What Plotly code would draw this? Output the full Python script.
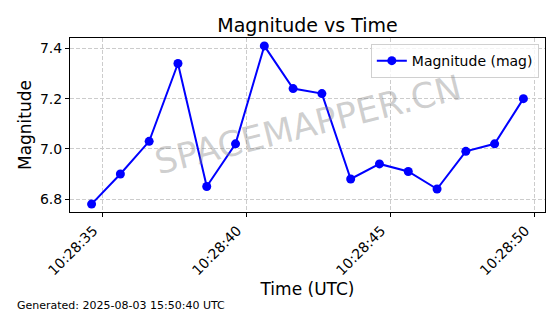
import plotly.graph_objects as go
from datetime import datetime, timedelta

start = datetime(2025, 8, 3, 10, 28, 34, 620000)
times = [start + timedelta(seconds=i) for i in range(16)]
magnitudes = [6.78, 6.90, 7.03, 7.34, 6.85, 7.02, 7.41, 7.24, 7.22, 6.88, 6.94, 6.91, 6.84, 6.99, 7.02, 7.20]
xticks = [datetime(2025, 8, 3, 10, 28, s) for s in (35, 40, 45, 50)]
yticks = [6.8, 7.0, 7.2, 7.4]

font = "DejaVu Sans"
fig = go.Figure()
fig.add_trace(go.Scatter(
    x=times, y=magnitudes, mode="lines+markers", name="Magnitude (mag)",
    line=dict(color="#0000ff", width=2),
    marker=dict(color="#0000ff", size=9),
))

axis_common = dict(
    showline=True, linecolor="black", linewidth=1, mirror=True,
    ticks="outside", ticklen=4, tickcolor="black",
    showgrid=True, gridcolor="#cccccc", griddash="4px,2px", gridwidth=1,
    zeroline=False, tickfont=dict(family=font, size=14, color="black"),
)

fig.update_layout(
    width=560, height=314,
    margin=dict(l=70, r=15, t=38, b=102),
    paper_bgcolor="white", plot_bgcolor="white",
    title=dict(text="Magnitude vs Time", xref="paper", x=0.5, xanchor="center", y=0.92, yanchor="middle",
               font=dict(family=font, size=19, color="black")),
    showlegend=True,
    legend=dict(x=0.987, y=0.965, xanchor="right", yanchor="top", itemwidth=30,
                bgcolor="rgba(255,255,255,0.8)", bordercolor="#d0d0d0", borderwidth=1,
                font=dict(family=font, size=14, color="black")),
    xaxis=dict(axis_common, type="date",
               range=[start - timedelta(seconds=0.75), start + timedelta(seconds=15.75)],
               tickvals=xticks, tickformat="%H:%M:%S", tickangle=-45, ticklabelshift=-9,
               title=dict(text="Time (UTC)", font=dict(family=font, size=17, color="black"), standoff=5)),
    yaxis=dict(axis_common, range=[6.7485, 7.4415], tickvals=yticks, tickformat=".1f",
               title=dict(text="Magnitude", font=dict(family=font, size=17, color="black"), standoff=3)),
)

fig.add_annotation(
    text="SPACEMAPPER.CN", xref="paper", yref="paper", x=0.5, y=0.5,
    showarrow=False, textangle=-14,
    font=dict(family=font, size=35, color="rgba(128,128,128,0.38)"),
)
fig.add_annotation(
    text="Generated: 2025-08-03 15:50:40 UTC", xref="paper", yref="paper",
    x=(15 - 70) / 475, y=-(305 - 212) / 174, xanchor="left", yanchor="middle", showarrow=False,
    font=dict(family=font, size=11, color="black"),
)

fig.write_html("out.html")
